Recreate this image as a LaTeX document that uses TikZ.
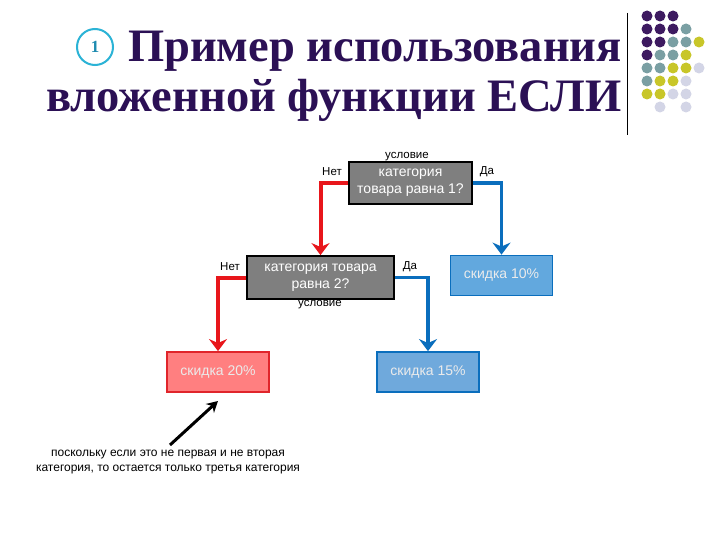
\documentclass[tikz,border=0pt]{standalone}
\usepackage{fontspec}
\setmainfont{Liberation Sans}
\newfontfamily\titlefont{Liberation Serif}
\usetikzlibrary{arrows.meta}
\definecolor{titlepurple}{HTML}{2B1055}
\definecolor{ringcyan}{HTML}{2BB3D6}
\definecolor{numteal}{HTML}{1E8BB0}
\definecolor{condgray}{HTML}{7F7F7F}
\definecolor{yesblue}{HTML}{0A6EBD}
\definecolor{nored}{HTML}{E8161B}
\definecolor{tenfill}{HTML}{62A8DE}
\definecolor{fifteenfill}{HTML}{6FA9DC}
\definecolor{twentyfill}{HTML}{FF7F80}
\definecolor{twentyline}{HTML}{E0252B}
\definecolor{dotP}{HTML}{3D1A60}
\definecolor{dotT}{HTML}{7A9FA3}
\definecolor{dotY}{HTML}{C8C629}
\definecolor{dotL}{HTML}{D3D5E6}
\begin{document}
\begin{tikzpicture}[
  x=1pt,y=-1pt,
  >={Stealth[length=12pt,width=18pt]},
  title/.style={font=\titlefont\bfseries\fontsize{46.5}{47}\selectfont,text=titlepurple,inner sep=0pt},
  cond/.style={rectangle,draw=black,line width=1.8pt,fill=condgray,text=white,align=center,
    inner sep=0pt,font=\fontsize{14}{17}\selectfont},
  result/.style={rectangle,line width=1.8pt,text=white!92!black,inner sep=0pt,
    minimum width=102pt,minimum height=40pt,font=\fontsize{14}{16}\selectfont},
  label/.style={inner sep=0pt,font=\fontsize{11.5}{13}\selectfont},
  noedge/.style={->,nored,line width=4pt},
  yesedge/.style={->,yesblue,line width=3.5pt}
]
\useasboundingbox (0,0) rectangle (720,540);
\fill[white] (0,0) rectangle (720,540);
% title
\node[circle,draw=ringcyan,line width=2pt,minimum size=36pt,inner sep=0pt,
  text=numteal,font=\titlefont\bfseries\fontsize{17}{17}\selectfont] (num) at (95,47) {1};
\node[title,anchor=base east] (t1) at (622,62) {Пример использования};
\node[title,anchor=base east] (t2) at (622,112) {вложенной функции ЕСЛИ};
\draw[line width=1pt] (627,13) -- (627,135);
\foreach \c/\r/\k in {1/1/dotP,2/1/dotP,3/1/dotP,
  1/2/dotP,2/2/dotP,3/2/dotP,4/2/dotT,
  1/3/dotP,2/3/dotP,3/3/dotT,4/3/dotT,5/3/dotY,
  1/4/dotP,2/4/dotT,3/4/dotT,4/4/dotY,
  1/5/dotT,2/5/dotT,3/5/dotY,4/5/dotY,5/5/dotL,
  1/6/dotT,2/6/dotY,3/6/dotY,4/6/dotL,
  1/7/dotY,2/7/dotY,3/7/dotL,4/7/dotL,
  2/8/dotL,4/8/dotL}
  \fill[\k] ({647+13*(\c-1)},{16+13*(\r-1)}) circle (5.5pt);
% decisions
\node[cond,minimum width=123pt,minimum height=42pt] (c1) at (410.5,183) {категория\\товара равна 1?};
\node[cond,minimum width=147pt,minimum height=43pt] (c2) at (320.5,277.5) {категория товара\\равна 2?};
% results
\node[result,draw=yesblue,fill=tenfill] (d10) at (501.5,275.5) {скидка 10\%};
\node[result,draw=yesblue,fill=fifteenfill] (d15) at (428,372) {скидка 15\%};
\node[result,draw=twentyline,fill=twentyfill] (d20) at (218,372) {скидка 20\%};
% labels
\node[label] (u1) at (407,157) {условие};
\node[label] (n1) at (332,172) {Нет};
\node[label] (y1) at (487,172) {Да};
\node[label] (n2) at (230,267) {Нет};
\node[label] (y2) at (410,267) {Да};
\node[label] (u2) at (320,305) {условие};
% connectors
\draw[noedge] (c1.west) -| (c2.north);
\draw[yesedge] (c1.east) -| (d10.north);
\draw[noedge] (c2.west) -| (d20.north);
\draw[yesedge] (c2.east) -| (d15.north);
% note
\node[align=center,inner sep=0pt,font=\fontsize{12}{15}\selectfont] (note) at (168,462)
  {поскольку если это не первая и не вторая\\категория, то остается только третья категория};
\coordinate (tip) at (218,401);
\draw[->,line width=3pt,>={Stealth[length=11pt,width=12pt]}] (170,445) -- (tip);
\end{tikzpicture}
\end{document}
